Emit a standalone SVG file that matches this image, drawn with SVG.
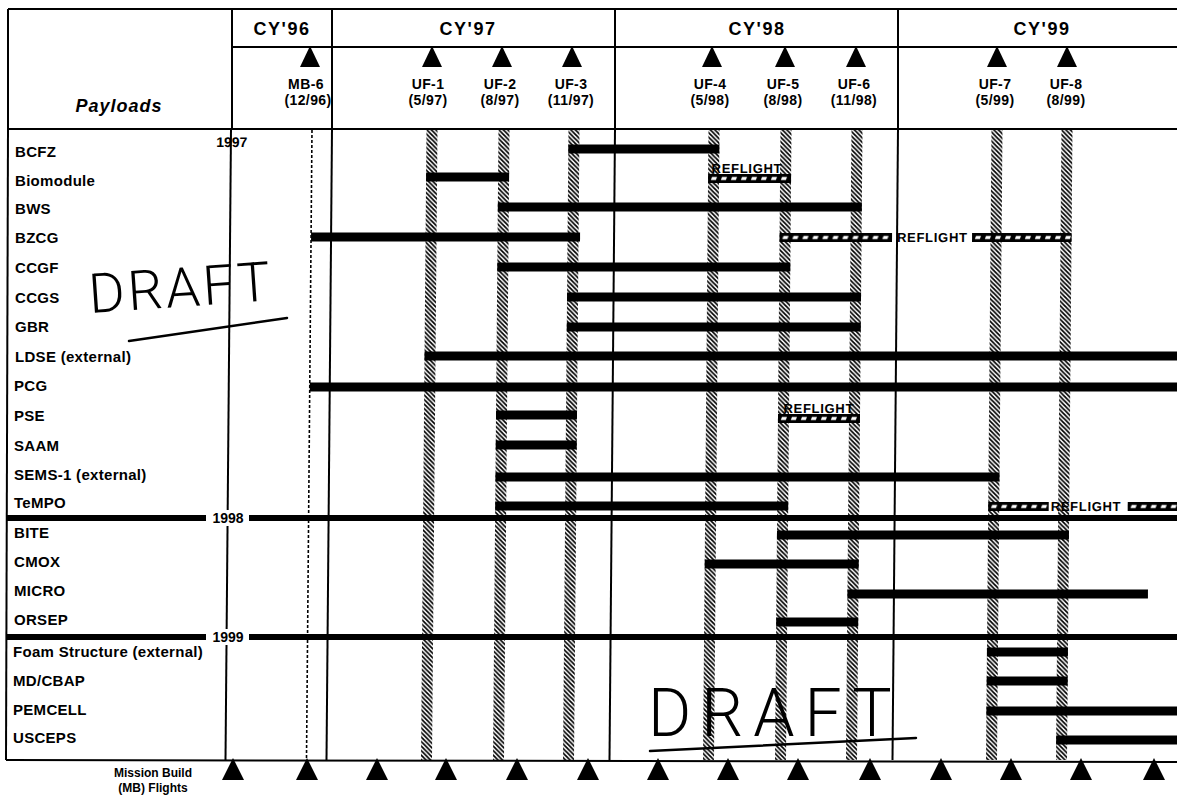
<svg xmlns="http://www.w3.org/2000/svg" width="1177" height="800" viewBox="0 0 1177 800">
<defs>
<style>
.ln{stroke:#000;stroke-width:2;fill:none}
.thk{stroke:#000;stroke-width:6;fill:none}
.dot{stroke:#000;stroke-width:1.6;stroke-dasharray:3 2;fill:none}
.bar{fill:#000}
.col{fill:url(#vh)}
.tri{fill:#000}
.cy{font-family:"Liberation Sans",Arial,Helvetica,sans-serif;font-weight:bold;font-size:18px;letter-spacing:1.5px;text-anchor:middle}
.hl{font-family:"Liberation Sans",Arial,Helvetica,sans-serif;font-weight:bold;font-size:14px;letter-spacing:0.4px;text-anchor:middle}
.rl{font-family:"Liberation Sans",Arial,Helvetica,sans-serif;font-weight:bold;font-size:15px;letter-spacing:0.3px}
.yr{font-family:"Liberation Sans",Arial,Helvetica,sans-serif;font-weight:bold;font-size:14px;text-anchor:middle}
.rf{font-family:"Liberation Sans",Arial,Helvetica,sans-serif;font-weight:bold;font-size:13px;letter-spacing:0.7px}
.pl{font-family:"Liberation Sans",Arial,Helvetica,sans-serif;font-weight:bold;font-style:italic;font-size:18px;letter-spacing:1px;text-anchor:middle}
.mb{font-family:"Liberation Sans",Arial,Helvetica,sans-serif;font-weight:bold;font-size:12px;text-anchor:middle}
.dr{font-family:Roboto,Lato,"Open Sans",sans-serif;font-weight:300}
.hand{stroke:#000;stroke-width:2.5;fill:none;stroke-linecap:round}
</style>
<pattern id="vh" patternUnits="userSpaceOnUse" width="4.5" height="4.5">
<path d="M0,0 L4.5,4.5 M-1,3.5 L1,5.5 M3.5,-1 L5.5,1" stroke="#000" stroke-width="1.7"/>
</pattern>
<pattern id="rfp" patternUnits="userSpaceOnUse" width="10" height="9">
<rect x="0" y="0" width="10" height="9" fill="#000"/>
<polygon points="4,3 9,3 7.8,6 2.8,6" fill="#fff"/>
</pattern>
</defs>

<g id="header">
<line class="ln" x1="8" y1="9" x2="1177" y2="9"/>
<line class="ln" x1="232" y1="47" x2="1177" y2="47"/>
<line class="ln" x1="8" y1="129" x2="1177" y2="129"/>
<line class="ln" x1="8" y1="9" x2="8" y2="129"/>
<line class="ln" x1="232" y1="9" x2="232" y2="129"/>
<line class="ln" x1="332" y1="9" x2="332" y2="129"/>
<line class="ln" x1="615" y1="9" x2="615" y2="129"/>
<line class="ln" x1="898" y1="9" x2="898" y2="129"/>
<text class="pl" x="119" y="112">Payloads</text>
<text class="cy" x="282" y="35">CY'96</text>
<text class="cy" x="468" y="35">CY'97</text>
<text class="cy" x="757" y="35">CY'98</text>
<text class="cy" x="1042" y="35">CY'99</text>
</g>

<g id="flight-MB6"><polygon class="tri" points="310,46 300,67 320,67"/><text class="hl" x="306" y="89">MB-6</text><text class="hl" x="308" y="105">(12/96)</text></g>
<g id="flight-UF1"><polygon class="tri" points="432,46 422,67 442,67"/><text class="hl" x="428" y="89">UF-1</text><text class="hl" x="428" y="105">(5/97)</text></g>
<g id="flight-UF2"><polygon class="tri" points="502,46 492,67 512,67"/><text class="hl" x="500" y="89">UF-2</text><text class="hl" x="500" y="105">(8/97)</text></g>
<g id="flight-UF3"><polygon class="tri" points="572,46 562,67 582,67"/><text class="hl" x="571" y="89">UF-3</text><text class="hl" x="571" y="105">(11/97)</text></g>
<g id="flight-UF4"><polygon class="tri" points="712,46 702,67 722,67"/><text class="hl" x="710" y="89">UF-4</text><text class="hl" x="710" y="105">(5/98)</text></g>
<g id="flight-UF5"><polygon class="tri" points="785,46 775,67 795,67"/><text class="hl" x="783" y="89">UF-5</text><text class="hl" x="783" y="105">(8/98)</text></g>
<g id="flight-UF6"><polygon class="tri" points="856,46 846,67 866,67"/><text class="hl" x="854" y="89">UF-6</text><text class="hl" x="854" y="105">(11/98)</text></g>
<g id="flight-UF7"><polygon class="tri" points="997,46 987,67 1007,67"/><text class="hl" x="995" y="89">UF-7</text><text class="hl" x="995" y="105">(5/99)</text></g>
<g id="flight-UF8"><polygon class="tri" points="1067,46 1057,67 1077,67"/><text class="hl" x="1066" y="89">UF-8</text><text class="hl" x="1066" y="105">(8/99)</text></g>

<g id="body" transform="translate(0,129) skewX(-0.5) translate(0,-129)">
<g id="grid">
<rect class="col" x="426.5" y="130" width="11" height="630"/>
<rect class="col" x="498.5" y="130" width="11" height="630"/>
<rect class="col" x="568.5" y="130" width="11" height="630"/>
<rect class="col" x="708.5" y="130" width="11" height="630"/>
<rect class="col" x="780.5" y="130" width="11" height="630"/>
<rect class="col" x="851.5" y="130" width="11" height="630"/>
<rect class="col" x="991.5" y="130" width="11" height="630"/>
<rect class="col" x="1061.5" y="130" width="11" height="630"/>
<line class="ln" x1="231" y1="129" x2="231" y2="760"/>
<line class="dot" x1="312" y1="130" x2="312" y2="760"/>
<line class="ln" x1="332" y1="129" x2="332" y2="760"/>
<line class="ln" x1="615" y1="129" x2="615" y2="760"/>
<line class="ln" x1="898" y1="129" x2="898" y2="760"/>
<text class="yr" x="232" y="147">1997</text>
</g>

<g id="connectors">
<rect class="bar" x="568.5" y="144.5" width="151" height="9"/>
<rect class="bar" x="426.5" y="172.5" width="83" height="9"/>
<g transform="translate(708.5,174)"><rect x="0" y="0" width="83" height="9" fill="url(#rfp)"/></g>
<rect class="bar" x="498.5" y="202.5" width="364" height="9"/>
<rect class="bar" x="312" y="232.5" width="269" height="9"/>
<g transform="translate(780.5,233)"><rect x="0" y="0" width="112.5" height="9" fill="url(#rfp)"/></g>
<g transform="translate(973,233)"><rect x="0" y="0" width="99.5" height="9" fill="url(#rfp)"/></g>
<rect class="bar" x="498.5" y="262.5" width="293" height="9"/>
<rect class="bar" x="568.5" y="292.5" width="294" height="9"/>
<rect class="bar" x="568.5" y="322.5" width="294" height="9"/>
<rect class="bar" x="426.5" y="351.5" width="770" height="9"/>
<rect class="bar" x="312" y="382.5" width="885" height="9"/>
<rect class="bar" x="498.5" y="410.5" width="81" height="9"/>
<g transform="translate(780.5,414)"><rect x="0" y="0" width="82" height="9" fill="url(#rfp)"/></g>
<rect class="bar" x="498.5" y="440.5" width="81" height="9"/>
<rect class="bar" x="498.5" y="472.5" width="504" height="9"/>
<rect class="bar" x="498.5" y="501.5" width="293" height="9"/>
<g transform="translate(991.5,502)"><rect x="0" y="0" width="60.5" height="9" fill="url(#rfp)"/></g>
<g transform="translate(1131,502)"><rect x="0" y="0" width="66" height="9" fill="url(#rfp)"/></g>
<rect class="bar" x="780.5" y="530.5" width="292" height="9"/>
<rect class="bar" x="708.5" y="559.5" width="154" height="9"/>
<rect class="bar" x="851.5" y="589.5" width="300.5" height="9"/>
<rect class="bar" x="780.5" y="617.5" width="82" height="9"/>
<rect class="bar" x="991.5" y="647.5" width="81" height="9"/>
<rect class="bar" x="991.5" y="676.5" width="81" height="9"/>
<rect class="bar" x="991.5" y="706.5" width="206" height="9"/>
<rect class="bar" x="1061.5" y="735.5" width="136" height="9"/>
<text class="rf" x="712" y="173">REFLIGHT</text>
<text class="rf" x="898" y="242">REFLIGHT</text>
<text class="rf" x="786" y="413">REFLIGHT</text>
<text class="rf" x="1054" y="511">REFLIGHT</text>
</g>
</g>

<g id="frame">
<line class="ln" x1="8" y1="129" x2="6" y2="760"/>
<line class="ln" x1="6" y1="760" x2="1177" y2="762"/>
</g>

<g id="year-dividers">
<line class="thk" x1="7" y1="518" x2="1177" y2="518"/>
<rect x="206" y="510" width="43" height="16" fill="#fff"/>
<text class="yr" x="228" y="523">1998</text>
<line class="thk" x1="7" y1="637" x2="1177" y2="637"/>
<rect x="206" y="629" width="43" height="16" fill="#fff"/>
<text class="yr" x="228" y="642">1999</text>
</g>

<g id="payload-labels">
<text class="rl" x="15" y="157">BCFZ</text>
<text class="rl" x="15" y="186">Biomodule</text>
<text class="rl" x="15" y="214">BWS</text>
<text class="rl" x="15" y="243">BZCG</text>
<text class="rl" x="15" y="273">CCGF</text>
<text class="rl" x="15" y="303">CCGS</text>
<text class="rl" x="15" y="332">GBR</text>
<text class="rl" x="15" y="362">LDSE (external)</text>
<text class="rl" x="14" y="391">PCG</text>
<text class="rl" x="14" y="421">PSE</text>
<text class="rl" x="14" y="451">SAAM</text>
<text class="rl" x="14" y="480">SEMS-1 (external)</text>
<text class="rl" x="14" y="508">TeMPO</text>
<text class="rl" x="14" y="538">BITE</text>
<text class="rl" x="14" y="567">CMOX</text>
<text class="rl" x="14" y="596">MICRO</text>
<text class="rl" x="14" y="625">ORSEP</text>
<text class="rl" x="13" y="657">Foam Structure (external)</text>
<text class="rl" x="13" y="686">MD/CBAP</text>
<text class="rl" x="13" y="715">PEMCELL</text>
<text class="rl" x="13" y="743">USCEPS</text>
</g>

<g id="mb-flights">
<polygon class="tri" points="233,758 222,780 244,780"/>
<polygon class="tri" points="307,758 296,780 318,780"/>
<polygon class="tri" points="377,758 366,780 388,780"/>
<polygon class="tri" points="446,758 435,780 457,780"/>
<polygon class="tri" points="517,758 506,780 528,780"/>
<polygon class="tri" points="588,758 577,780 599,780"/>
<polygon class="tri" points="658,758 647,780 669,780"/>
<polygon class="tri" points="728,758 717,780 739,780"/>
<polygon class="tri" points="798,758 787,780 809,780"/>
<polygon class="tri" points="870,758 859,780 881,780"/>
<polygon class="tri" points="941,758 930,780 952,780"/>
<polygon class="tri" points="1011,758 1000,780 1022,780"/>
<polygon class="tri" points="1081,758 1070,780 1092,780"/>
<polygon class="tri" points="1154,758 1143,780 1165,780"/>
<text class="mb" x="153" y="777">Mission Build</text>
<text class="mb" x="153" y="792">(MB) Flights</text>
</g>

<g id="draft-marks">
<text class="dr" x="90" y="313" font-size="55" letter-spacing="3" transform="rotate(-4 90 313)">DRAFT</text>
<line class="hand" x1="129" y1="341" x2="287" y2="318"/>
<text class="dr" x="648" y="736" font-size="66" letter-spacing="10">DRAFT</text>
<line class="hand" x1="650" y1="751" x2="916" y2="738"/>
</g>
</svg>
